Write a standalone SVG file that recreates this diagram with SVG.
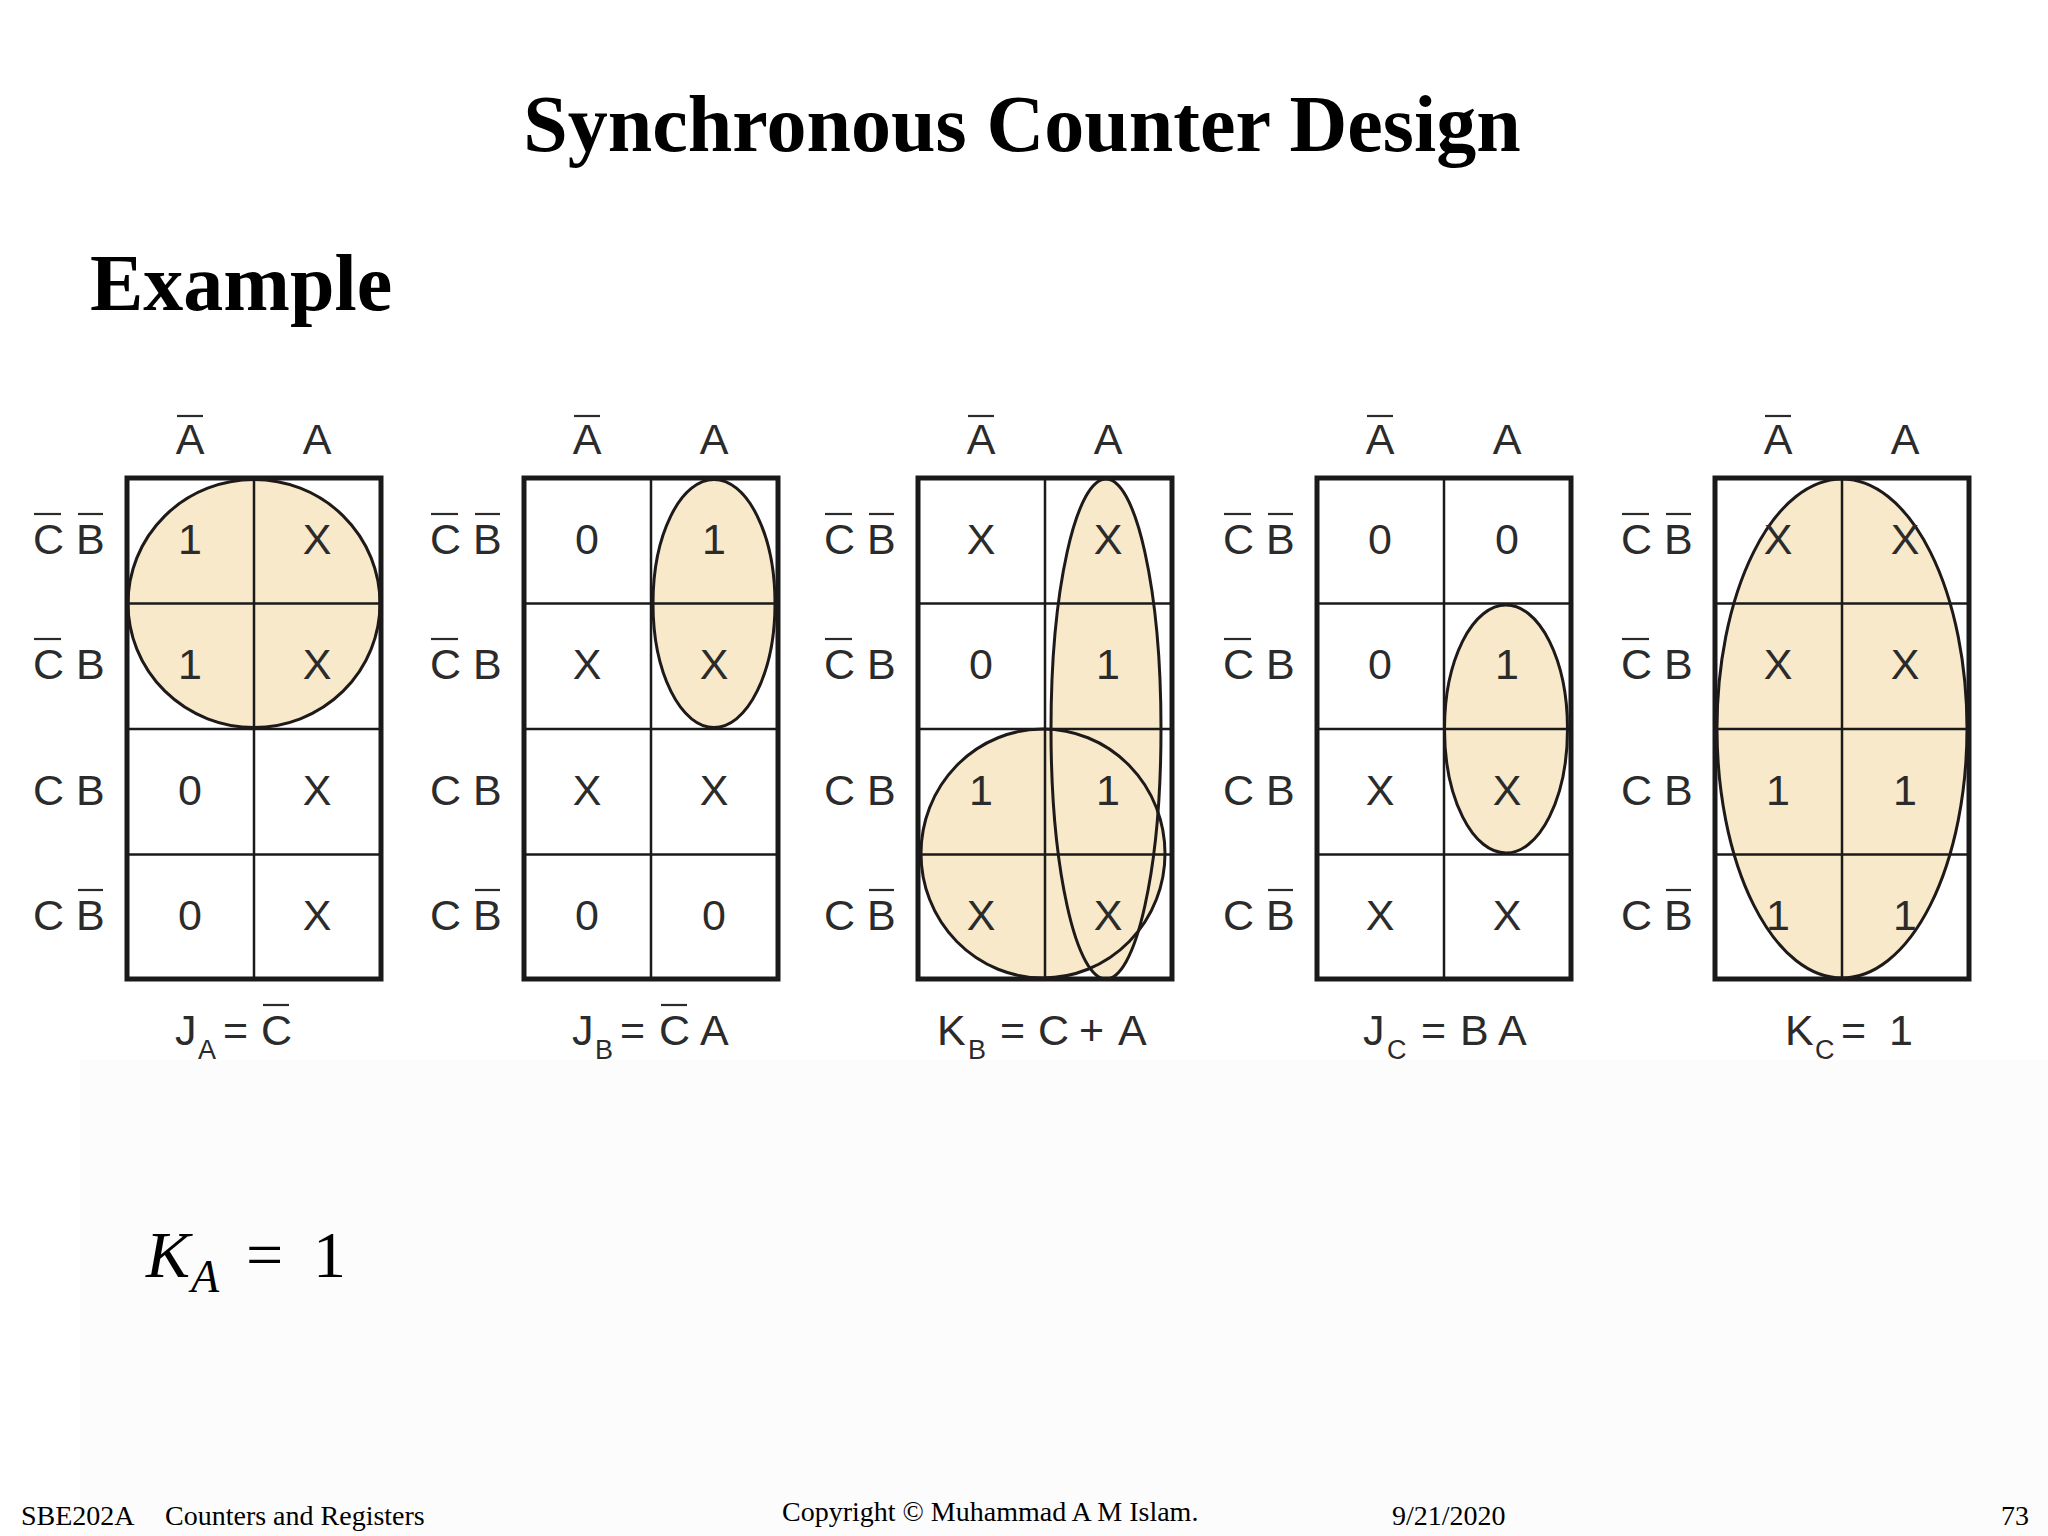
<svg xmlns="http://www.w3.org/2000/svg" width="2048" height="1536" viewBox="0 0 2048 1536">
<style>
.title{font-family:"Liberation Serif","Times New Roman",serif;font-weight:bold;font-size:80px;fill:#000}
.foot{font-family:"Liberation Serif","Times New Roman",serif;font-size:28px;fill:#000}
.t{font-family:"Liberation Sans",Arial,sans-serif;font-size:43px;fill:#2b2b2b}
.c{text-anchor:middle}
.sub{font-family:"Liberation Sans",Arial,sans-serif;font-size:27px;fill:#2b2b2b}
.ob{stroke:#2b2b2b;stroke-width:2.2}
.fill{fill:#f7e9c9;stroke:none}
.ring{fill:none;stroke:#1e1a1a;stroke-width:3}
.grid{stroke:#1a1a1a;stroke-width:2.5;fill:none}
.box{stroke:#1a1a1a;stroke-width:5;fill:none}
.math{font-family:"Liberation Serif","Times New Roman",serif;fill:#000}
</style>
<defs>
<g id="grid">
<line class="grid" x1="127" y1="0" x2="127" y2="501"/>
<line class="grid" x1="0" y1="125.5" x2="254" y2="125.5"/>
<line class="grid" x1="0" y1="251" x2="254" y2="251"/>
<line class="grid" x1="0" y1="376.5" x2="254" y2="376.5"/>
<rect class="box" x="0" y="0" width="254" height="501"/>
</g>
<g id="labels">
<text class="t c" x="63" y="-24">A</text>
<line class="ob" x1="50" y1="-62" x2="76" y2="-62"/>
<text class="t c" x="190" y="-24">A</text>
<text class="t" x="-94" y="76">C</text><text class="t" x="-51" y="76">B</text>
<line class="ob" x1="-93" y1="36" x2="-66" y2="36"/><line class="ob" x1="-49" y1="36" x2="-24" y2="36"/>
<text class="t" x="-94" y="201">C</text><text class="t" x="-51" y="201">B</text>
<line class="ob" x1="-93" y1="161" x2="-66" y2="161"/>
<text class="t" x="-94" y="327">C</text><text class="t" x="-51" y="327">B</text>
<text class="t" x="-94" y="452">C</text><text class="t" x="-51" y="452">B</text>
<line class="ob" x1="-49" y1="412" x2="-24" y2="412"/>
</g>
</defs>
<rect x="0" y="0" width="2048" height="1536" fill="#ffffff"/>
<rect x="80" y="1060" width="1968" height="476" fill="#fdfcfd"/>

<g id="title"><text class="title" x="1022" y="151" text-anchor="middle">Synchronous Counter Design</text></g>
<g id="example"><text class="title" x="90" y="310">Example</text></g>

<g id="kmap-ja" transform="translate(127,478)">
<ellipse class="fill" cx="127" cy="125.5" rx="126" ry="124"/>
<use href="#grid"/>
<ellipse class="ring" cx="127" cy="125.5" rx="126" ry="124"/>
<use href="#labels"/>
<text class="t c" x="63" y="76">1</text><text class="t c" x="190" y="76">X</text>
<text class="t c" x="63" y="201">1</text><text class="t c" x="190" y="201">X</text>
<text class="t c" x="63" y="327">0</text><text class="t c" x="190" y="327">X</text>
<text class="t c" x="63" y="452">0</text><text class="t c" x="190" y="452">X</text>
<text class="t" x="48" y="567">J</text><text class="sub" x="71" y="581">A</text>
<text class="t" x="96" y="567">=</text><text class="t" x="134" y="567">C</text>
<line class="ob" x1="136" y1="527" x2="162" y2="527"/>
</g>

<g id="kmap-jb" transform="translate(524,478)">
<ellipse class="fill" cx="190" cy="125.5" rx="61" ry="124"/>
<use href="#grid"/>
<ellipse class="ring" cx="190" cy="125.5" rx="61" ry="124"/>
<use href="#labels"/>
<text class="t c" x="63" y="76">0</text><text class="t c" x="190" y="76">1</text>
<text class="t c" x="63" y="201">X</text><text class="t c" x="190" y="201">X</text>
<text class="t c" x="63" y="327">X</text><text class="t c" x="190" y="327">X</text>
<text class="t c" x="63" y="452">0</text><text class="t c" x="190" y="452">0</text>
<text class="t" x="48" y="567">J</text><text class="sub" x="71" y="581">B</text>
<text class="t" x="96" y="567">=</text><text class="t" x="135" y="567">C</text>
<line class="ob" x1="137" y1="527" x2="163" y2="527"/>
<text class="t" x="176" y="567">A</text>
</g>

<g id="kmap-kb" transform="translate(918,478)">
<ellipse class="fill" cx="188" cy="251" rx="55" ry="250"/>
<ellipse class="fill" cx="125" cy="375.5" rx="122" ry="124.5"/>
<use href="#grid"/>
<ellipse class="ring" cx="188" cy="251" rx="55" ry="250"/>
<ellipse class="ring" cx="125" cy="375.5" rx="122" ry="124.5"/>
<use href="#labels"/>
<text class="t c" x="63" y="76">X</text><text class="t c" x="190" y="76">X</text>
<text class="t c" x="63" y="201">0</text><text class="t c" x="190" y="201">1</text>
<text class="t c" x="63" y="327">1</text><text class="t c" x="190" y="327">1</text>
<text class="t c" x="63" y="452">X</text><text class="t c" x="190" y="452">X</text>
<text class="t" x="19" y="567">K</text><text class="sub" x="50" y="581">B</text>
<text class="t" x="82" y="567">=</text><text class="t" x="120" y="567">C</text>
<text class="t" x="161" y="567">+</text><text class="t" x="200" y="567">A</text>
</g>

<g id="kmap-jc" transform="translate(1317,478)">
<ellipse class="fill" cx="189" cy="251" rx="61.5" ry="124"/>
<use href="#grid"/>
<ellipse class="ring" cx="189" cy="251" rx="61.5" ry="124"/>
<use href="#labels"/>
<text class="t c" x="63" y="76">0</text><text class="t c" x="190" y="76">0</text>
<text class="t c" x="63" y="201">0</text><text class="t c" x="190" y="201">1</text>
<text class="t c" x="63" y="327">X</text><text class="t c" x="190" y="327">X</text>
<text class="t c" x="63" y="452">X</text><text class="t c" x="190" y="452">X</text>
<text class="t" x="46" y="567">J</text><text class="sub" x="70" y="581">C</text>
<text class="t" x="104" y="567">=</text><text class="t" x="143" y="567">B</text>
<text class="t" x="181" y="567">A</text>
</g>

<g id="kmap-kc" transform="translate(1715,478)">
<ellipse class="fill" cx="127" cy="250.5" rx="125" ry="249.5"/>
<use href="#grid"/>
<ellipse class="ring" cx="127" cy="250.5" rx="125" ry="249.5"/>
<use href="#labels"/>
<text class="t c" x="63" y="76">X</text><text class="t c" x="190" y="76">X</text>
<text class="t c" x="63" y="201">X</text><text class="t c" x="190" y="201">X</text>
<text class="t c" x="63" y="327">1</text><text class="t c" x="190" y="327">1</text>
<text class="t c" x="63" y="452">1</text><text class="t c" x="190" y="452">1</text>
<text class="t" x="70" y="567">K</text><text class="sub" x="100" y="581">C</text>
<text class="t" x="126" y="567">=</text><text class="t" x="174" y="567">1</text>
</g>

<g id="ka">
<text class="math" x="146" y="1277" font-size="66" font-style="italic">K</text>
<text class="math" x="191" y="1292" font-size="46" font-style="italic">A</text>
<text class="math" x="246" y="1277" font-size="66">=</text>
<text class="math" x="313" y="1277" font-size="66">1</text>
</g>

<g id="footer">
<text class="foot" x="21" y="1525">SBE202A</text>
<text class="foot" x="165" y="1525">Counters and Registers</text>
<text class="foot" x="782" y="1521">Copyright © Muhammad A M Islam.</text>
<text class="foot" x="1392" y="1525">9/21/2020</text>
<text class="foot" x="2001" y="1525">73</text>
</g>
</svg>
